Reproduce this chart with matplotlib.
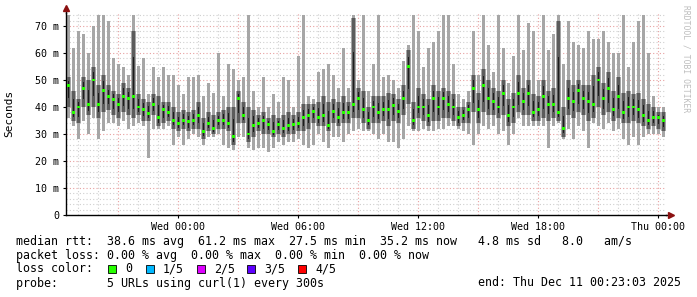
import numpy as np
import matplotlib
matplotlib.use('Agg')
import matplotlib.pyplot as plt
from matplotlib.patches import Rectangle

# SmokePing style: 30 hours ending Thu 00:23, one column per 15 min
# time in hours relative to Wed 00:00
t_start = -337 / 60.0
step = 0.25

# max / upper quartile / median / lower quartile / min (ms)
hi = [74, 62, 68, 67, 60, 70, 74, 74, 72, 58, 56, 55, 52, 74, 55, 58, 45, 55, 51, 55,
      52, 52, 48, 45, 51, 51, 52, 44, 49, 45,
      60, 44, 56, 54, 50, 51, 74, 46, 40, 51, 40, 45, 42, 51, 50, 40, 59, 74, 44, 43,
      53, 54, 56, 52, 47, 62, 47, 74, 50, 74,
      46, 56, 74, 51, 52, 50, 47, 57, 63, 74, 68, 55, 62, 64, 68, 74, 74, 56, 45, 43,
      46, 68, 52, 74, 63, 53, 74, 62, 49, 59,
      74, 61, 71, 68, 50, 74, 61, 67, 74, 56, 72, 64, 63, 62, 68, 65, 65, 68, 64, 60,
      60, 74, 55, 64, 72, 74, 60, 44, 40, 40]
q3 = [51, 46, 43, 51, 50, 55, 48, 52, 48, 46, 45, 49, 47, 68, 45, 43, 42, 45, 44, 42,
      42, 40, 38, 39, 38, 39, 42, 36, 38, 37,
      38, 39, 40, 40, 46, 42, 40, 39, 37, 38, 36, 37, 36, 37, 38, 37, 38, 41, 41, 41,
      42, 44, 42, 43, 42, 44, 42, 73, 47, 46,
      40, 44, 44, 44, 45, 45, 43, 48, 61, 42, 47, 45, 43, 48, 46, 47, 46, 45, 40, 40,
      42, 52, 45, 54, 50, 47, 46, 50, 43, 45,
      52, 47, 50, 45, 44, 50, 46, 47, 72, 40, 50, 48, 50, 48, 48, 52, 55, 49, 53, 46,
      51, 45, 46, 45, 45, 43, 41, 40, 38, 38]
med = [48, 38, 40, 47, 41, 50, 41, 46, 44, 42.6, 41, 44, 43, 44, 40, 39, 37.5, 41, 36, 39,
       38, 35, 34, 35, 34.5, 35, 37, 31, 34, 32,
       35, 35, 34, 29, 43, 37, 30, 33, 34, 35, 33.5, 31, 33.5, 32, 33, 33.5, 34, 36, 37, 38.5,
       36, 37, 33, 38.5, 36, 38, 38, 41, 43, 39,
       35, 40, 38, 39, 39, 40.5, 38.5, 43, 55, 35, 40, 40, 37, 43, 40, 43, 41, 40, 36, 37,
       39, 47, 39, 48, 43, 42, 40, 45, 37, 40,
       45, 42, 45, 38, 39, 44, 41, 41, 38, 32, 43, 42, 46, 43, 42, 41, 50, 43, 47, 39,
       44, 38, 40, 40, 39, 37, 35, 36, 36, 35]
q1 = [40, 35, 34, 40, 37, 40, 36, 38, 39, 37, 36, 38, 37, 36, 37, 35, 35, 37, 33, 34,
      35, 32, 31, 32, 31, 32, 32, 28, 31, 30,
      32, 32, 31, 26, 34, 34, 27, 29, 31, 30, 30, 29, 30, 29, 30, 30, 31, 31, 32, 34,
      33, 33, 31, 34, 33, 34, 34, 36, 36, 34,
      32, 34, 34, 35, 33, 35, 34, 37, 41, 32, 36, 35, 33, 35, 35, 36, 36, 35, 33, 34,
      34, 38, 34, 38, 37, 37, 36, 37, 33, 34,
      38, 37, 37, 35, 35, 36, 35, 36, 35, 29, 37, 36, 38, 37, 35, 36, 40, 37, 38, 35,
      36, 34, 34, 35, 34, 33, 32, 33, 32, 31]
lo = [36, 33, 28, 35, 30, 36, 28, 31, 34, 34, 33, 35, 32, 33, 34, 33, 21, 32, 32, 32,
      33, 26, 29, 26, 28, 30, 29, 26, 29, 29,
      30, 26, 25, 24, 29, 29, 25, 24, 25, 25, 23.5, 25, 27, 26, 27, 27, 28, 26, 25, 26,
      30, 27, 25, 29, 29, 27, 30, 31, 32, 31,
      31, 30, 28, 30, 27, 27, 25, 28, 33, 31, 31, 32, 31, 31, 32, 32, 33, 33, 32, 31,
      30, 26, 30, 33, 32, 33, 30, 31, 26, 30,
      36, 33, 33, 33, 33, 33, 25, 33, 34, 28, 32, 28, 33, 31, 25, 34, 33, 32, 34, 31,
      32, 28, 26, 29, 26, 29, 30, 30, 30, 29]

x_ticks = [0, 6, 12, 18, 24]
x_labels = ['Wed 00:00', 'Wed 06:00', 'Wed 12:00', 'Wed 18:00', 'Thu 00:00']
y_ticks = [0, 10, 20, 30, 40, 50, 60, 70]
y_labels = ['0', '10 m', '20 m', '30 m', '40 m', '50 m', '60 m', '70 m']

W, H = 697, 297
fig = plt.figure(figsize=(W / 100, H / 100), dpi=100)
ax = fig.add_axes([66 / W, (H - 215) / H, 600 / W, 202.5 / H])

t = t_start + np.arange(len(med)) * step
hi = np.array(hi, float); q3 = np.array(q3, float); med = np.array(med, float)
q1 = np.array(q1, float); lo = np.array(lo, float)

# smoke: light outer range, darker inner range, near-black core, green median
ax.bar(t + step * 0.2, hi - lo, bottom=lo, width=step * 0.6, align='edge',
       color='#a6a6a6', linewidth=0, zorder=2)
ax.bar(t, q3 - q1, bottom=q1, width=step, align='edge', color='#a6a6a6', linewidth=0, zorder=2)
ax.bar(t + step * 0.15, q3 - q1, bottom=q1, width=step * 0.7, align='edge',
       color='#5c5c5c', linewidth=0, zorder=3)
ax.bar(t + step * 0.35, (q3 - q1) * 0.6, bottom=med - (med - q1) * 0.6, width=step * 0.3,
       align='edge', color='#1c1c1c', linewidth=0, zorder=4)
ax.bar(t + step * 0.2, 1.1, bottom=med - 0.55, width=step * 0.6, align='edge',
       color='#26ff00', linewidth=0, zorder=5)

ax.set_xlim(t_start, t_start + 30)
ax.set_ylim(0, 75)

# grid
for h in np.arange(-5, 25, 1):
    c = '#e7a0a0' if h % 3 == 0 else '#cfcfcf'
    ax.axvline(h, color=c, lw=0.8, ls=(0, (1, 2)), zorder=1)
for v in np.arange(2, 75, 2):
    c = '#e7a0a0' if v % 10 == 0 else '#cfcfcf'
    ax.axhline(v, color=c, lw=0.8, ls=(0, (1, 2)), zorder=1)

for s in ['top', 'right']:
    ax.spines[s].set_visible(False)
ax.spines['left'].set_linewidth(1.0)
ax.spines['bottom'].set_linewidth(1.0)
ax.plot([0, 0], [1, 1.02], transform=ax.transAxes, color='black', lw=1, clip_on=False)
ax.plot([1, 1.008], [0, 0], transform=ax.transAxes, color='black', lw=1, clip_on=False)
ax.plot([0], [1.02], marker='^', color='#8b1010', ms=4, transform=ax.transAxes, clip_on=False)
ax.plot([1.008], [0], marker='>', color='#8b1010', ms=4, transform=ax.transAxes, clip_on=False)

ax.set_xticks(x_ticks)
ax.set_xticklabels(x_labels)
ax.set_yticks(y_ticks)
ax.set_yticklabels(y_labels)
ax.tick_params(axis='both', length=2, width=0.8, labelsize=7.2, pad=3)
for lab in ax.get_xticklabels() + ax.get_yticklabels():
    lab.set_family('DejaVu Sans Mono')
ax.set_ylabel('Seconds', family='DejaVu Sans Mono', fontsize=8, labelpad=15)

fig.text(686 / W, 1 - 5 / H, 'RRDTOOL / TOBI OETIKER', rotation=270, ha='center', va='top',
         family='DejaVu Sans Mono', fontsize=5.8, color='#bdbdbd')


def px_text(x, y, s, **kw):
    fig.text(x / W, 1 - y / H, s, ha='left', va='center', family='DejaVu Sans Mono',
             fontsize=8.4, color='black', **kw)


px_text(16, 241, 'median rtt:  38.6 ms avg  61.2 ms max  27.5 ms min  35.2 ms now   4.8 ms sd   8.0   am/s')
px_text(16, 255, 'packet loss: 0.00 % avg  0.00 % max  0.00 % min  0.00 % now')
px_text(16, 269, 'loss color:')
loss_cols = ['#26ff00', '#00b8ff', '#dd00ff', '#5e00ff', '#ff0000']
loss_labs = ['0', '1/5', '2/5', '3/5', '4/5']
box_x = [108, 146, 197, 247, 298]
for bx, c, lab in zip(box_x, loss_cols, loss_labs):
    fig.patches.append(Rectangle((bx / W, 1 - 273 / H), 8 / W, 8 / H, transform=fig.transFigure,
                                 facecolor=c, edgecolor='black', lw=0.6))
    px_text(bx + 17, 269, lab)
px_text(16, 283, 'probe:       5 URLs using curl(1) every 300s')
px_text(478, 283, 'end: Thu Dec 11 00:23:03 2025')

fig.savefig('out.png', dpi=100, facecolor='white')
